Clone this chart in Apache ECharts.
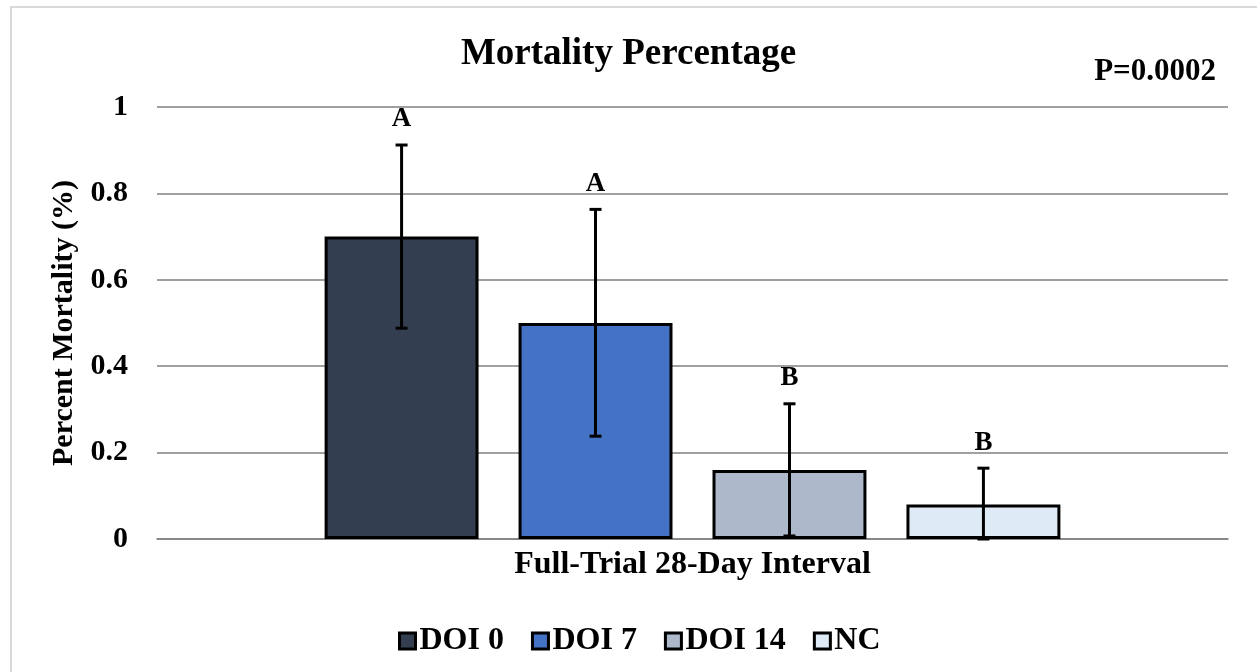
<!DOCTYPE html>
<html>
<head>
<meta charset="utf-8">
<script src="https://cdn.jsdelivr.net/npm/echarts@6/dist/echarts.min.js"></script>
<style>
  html, body { margin: 0; padding: 0; background: #ffffff; }
  #chart { width: 1257px; height: 672px; }
</style>
</head>
<body>
<div id="chart"></div>
<script>
// Mortality by group over the full 28-day trial
const categories = ['Full-Trial 28-Day Interval'];
const groups = ['DOI 0', 'DOI 7', 'DOI 14', 'NC'];
const mortality = [0.70, 0.50, 0.16, 0.08];
const errLow = [0.488, 0.238, 0.007, 0.0];
const errHigh = [0.912, 0.763, 0.313, 0.164];
const letters = ['A', 'A', 'B', 'B'];
const colors = ['#333F50', '#4472C4', '#ADB9CA', '#DEEBF7'];
const yTicks = [0, 0.2, 0.4, 0.6, 0.8, 1];
const pValue = 'P=0.0002';

const FONT = '"Liberation Serif", "Times New Roman", serif';
const CAT_GAP = 0.313;
const BAR_GAP = 0.26;

const chart = echarts.init(document.getElementById('chart'));

const barSeries = groups.map((g, i) => ({
  name: g,
  type: 'bar',
  data: [mortality[i]],
  itemStyle: { color: colors[i], borderColor: '#000000', borderWidth: 3 },
  barGap: (BAR_GAP * 100) + '%',
  barCategoryGap: (CAT_GAP * 100) + '%',
  emphasis: { disabled: true },
  z: 2
}));

// Error bars and significance letters, placed over each bar of the group
const errorData = groups.map((g, i) => [0, i, errLow[i], errHigh[i]]);

const errorSeries = {
  type: 'custom',
  name: 'error',
  z: 5,
  silent: true,
  data: errorData,
  renderItem: function (params, api) {
    const idx = api.value(1);
    const n = groups.length;
    const catW = api.size([1, 0])[0];
    const band = catW * (1 - CAT_GAP);
    const barW = band / (n + (n - 1) * BAR_GAP);
    const cx0 = api.coord([0, 0])[0];
    const x = cx0 - band / 2 + idx * barW * (1 + BAR_GAP) + barW / 2;
    const yLo = api.coord([0, api.value(2)])[1];
    const yHi = api.coord([0, api.value(3)])[1];
    const cap = 6;
    const st = { stroke: '#000000', lineWidth: 3 };
    return {
      type: 'group',
      children: [
        { type: 'line', shape: { x1: x, y1: yLo, x2: x, y2: yHi }, style: st },
        { type: 'line', shape: { x1: x - cap, y1: yHi, x2: x + cap, y2: yHi }, style: st },
        { type: 'line', shape: { x1: x - cap, y1: yLo, x2: x + cap, y2: yLo }, style: st },
        {
          type: 'text',
          x: x,
          y: yHi - 12,
          style: {
            text: letters[idx],
            fill: '#000000',
            font: 'bold 27px ' + FONT,
            align: 'center',
            verticalAlign: 'bottom'
          }
        }
      ]
    };
  }
};

chart.setOption({
  backgroundColor: '#ffffff',
  animation: false,
  title: [
    {
      text: 'Mortality Percentage',
      left: 'center',
      top: 31,
      textStyle: { fontFamily: FONT, fontWeight: 'bold', fontSize: 37, color: '#000000' }
    },
    {
      text: pValue,
      right: 36,
      top: 51,
      textStyle: { fontFamily: FONT, fontWeight: 'bold', fontSize: 31, color: '#000000' }
    }
  ],
  graphic: [
    {
      type: 'rect',
      silent: true,
      shape: { x: 11, y: 7, width: 1400, height: 800 },
      style: { fill: 'none', stroke: '#d9d9d9', lineWidth: 2 }
    }
  ],
  legend: {
    data: groups,
    left: 393,
    top: 620,
    itemWidth: 16,
    itemHeight: 16,
    itemGap: 27,
    icon: 'rect',
    itemStyle: { borderColor: '#000000', borderWidth: 3 },
    textStyle: { fontFamily: FONT, fontWeight: 'bold', fontSize: 32, color: '#000000', padding: [0, 0, 0, -1] },
    selectedMode: false
  },
  grid: { left: 157, right: 29, top: 107, bottom: 133, containLabel: false },
  xAxis: {
    type: 'category',
    data: categories,
    axisLine: { show: true, lineStyle: { color: '#808080', width: 1.5 } },
    axisTick: { show: false },
    axisLabel: {
      show: true,
      margin: 10,
      fontFamily: FONT,
      fontWeight: 'bold',
      fontSize: 32,
      color: '#000000'
    }
  },
  yAxis: {
    type: 'value',
    min: 0,
    max: 1,
    interval: 0.2,
    name: 'Percent Mortality (%)',
    nameLocation: 'middle',
    nameGap: 73,
    nameRotate: 90,
    nameTextStyle: { fontFamily: FONT, fontWeight: 'bold', fontSize: 30, color: '#000000' },
    axisLine: { show: false },
    axisTick: { show: false },
    axisLabel: {
      margin: 29,
      fontFamily: FONT,
      fontWeight: 'bold',
      fontSize: 30,
      color: '#000000',
      formatter: function (v) {
        const t = yTicks.find(k => Math.abs(k - v) < 1e-9);
        return t === undefined ? '' : String(t);
      }
    },
    splitLine: { lineStyle: { color: '#808080', width: 1.5 } }
  },
  series: barSeries.concat([errorSeries])
});
</script>
</body>
</html>
